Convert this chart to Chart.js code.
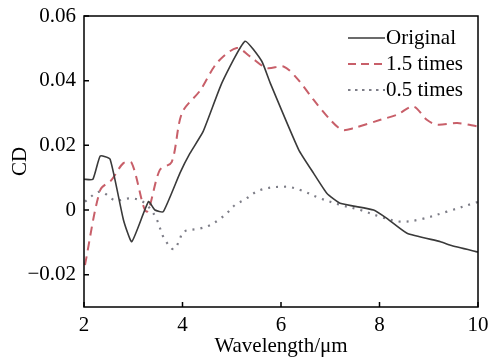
<!DOCTYPE html>
<html>
<head>
<meta charset="utf-8">
<script src="https://cdn.jsdelivr.net/npm/chart.js@4.4.1/dist/chart.umd.min.js"></script>
<style>
  html, body { margin: 0; padding: 0; background: #fff; }
  #wrap { width: 489px; height: 359px; }
</style>
</head>
<body>
<div id="wrap"><canvas id="myChart"></canvas></div>
<script>
// tick labels
var xTicks = [2, 4, 6, 8, 10];
var yTicks = [-0.02, 0, 0.02, 0.04, 0.06];

// series: wavelength (um) and CD values
var origX = [2.0, 2.18, 2.33, 2.53, 2.8, 2.97, 3.31, 3.44, 3.61, 3.95, 4.15, 4.42, 4.8, 5.27, 5.61, 5.78, 6.36, 6.66, 6.93, 7.2, 7.88, 8.15, 8.56, 9.24, 9.44, 10.0];
var origY = [0.0095, 0.0095, 0.0167, 0.0157, -0.003, -0.0098, 0.0026, 0.0, -0.0005, 0.0115, 0.0175, 0.0243, 0.0393, 0.0522, 0.046, 0.0393, 0.0186, 0.0114, 0.0052, 0.0021, 0.0, -0.0026, -0.0072, -0.0098, -0.0109, -0.013];

var times15X = [2.02, 2.33, 2.56, 2.8, 2.97, 3.27, 3.54, 3.78, 3.99, 4.36, 4.7, 5.1, 5.37, 5.71, 6.05, 6.32, 6.66, 7.0, 7.24, 7.47, 8.02, 8.36, 8.69, 8.96, 9.17, 9.58, 10.0];
var times15Y = [-0.017, 0.0062, 0.0093, 0.0145, 0.0145, -0.0005, 0.0124, 0.0148, 0.03, 0.037, 0.0455, 0.0501, 0.0475, 0.0439, 0.0444, 0.0408, 0.0341, 0.0279, 0.0248, 0.0253, 0.0279, 0.0295, 0.032, 0.0279, 0.0264, 0.0269, 0.0258];

var times05X = [2.02, 2.33, 2.63, 2.93, 3.14, 3.31, 3.48, 3.61, 3.78, 3.85, 3.95, 4.02, 4.36, 4.56, 4.73, 4.9, 5.07, 5.24, 5.58, 6.09, 6.39, 6.8, 7.2, 7.61, 8.02, 8.42, 8.83, 9.37, 10.0];
var times05Y = [0.0026, 0.0057, 0.003, 0.0036, 0.003, 0.001, -0.003, -0.0083, -0.0119, -0.0119, -0.0088, -0.0067, -0.0057, -0.0047, -0.0031, -0.001, 0.0016, 0.003, 0.0062, 0.0072, 0.0062, 0.0036, 0.0016, 0.0, -0.0021, -0.0036, -0.0029, -0.0005, 0.0025];

var seriesNames = ['Original', '1.5 times', '0.5 times'];

function pts(xs, ys) {
  var out = [];
  for (var i = 0; i < xs.length; i++) {
    out.push({x: xs[i], y: ys[i]});
  }
  return out;
}

var FONT = "'Liberation Serif', 'Times New Roman', serif";
var FSIZE = 21;

// frame, inward ticks and legend inside the plot
var framePlugin = {
  id: 'frame',
  afterDraw: function(chart) {
    var ctx = chart.ctx;
    var a = chart.chartArea;
    var xs = chart.scales.x, ys = chart.scales.y;
    ctx.save();
    ctx.strokeStyle = '#000';
    ctx.lineWidth = 1.5;
    ctx.strokeRect(a.left, a.top, a.right - a.left, a.bottom - a.top);
    ctx.beginPath();
    xTicks.forEach(function(v) {
      var px = xs.getPixelForValue(v);
      ctx.moveTo(px, a.bottom);
      ctx.lineTo(px, a.bottom - 5);
    });
    yTicks.forEach(function(v) {
      var py = ys.getPixelForValue(v);
      ctx.moveTo(a.left, py);
      ctx.lineTo(a.left + 5, py);
    });
    ctx.stroke();

    // legend
    ctx.font = FSIZE + 'px ' + FONT;
    ctx.textBaseline = 'middle';
    ctx.textAlign = 'left';
    chart.data.datasets.forEach(function(ds, i) {
      var y = a.top + 22 + i * 26;
      var x0 = a.left + 264;
      ctx.strokeStyle = ds.borderColor;
      ctx.lineWidth = ds.borderWidth;
      ctx.setLineDash(ds.legendDash || []);
      ctx.beginPath();
      ctx.moveTo(x0, y);
      ctx.lineTo(x0 + 37, y);
      ctx.stroke();
      ctx.setLineDash([]);
      ctx.fillStyle = '#000';
      ctx.fillText(ds.label, x0 + 38, y);
    });
    ctx.restore();
  }
};

var ctx = document.getElementById('myChart').getContext('2d');
var myChart = new Chart(ctx, {
  type: 'line',
  data: {
    datasets: [{
      label: seriesNames[0],
      data: pts(origX, origY),
      borderColor: '#3a3a3a',
      borderWidth: 1.6,
      pointRadius: 0,
      tension: 0.15
    },
    {
      label: seriesNames[1],
      data: pts(times15X, times15Y),
      borderColor: 'rgba(200, 95, 105, 1)',
      borderWidth: 2,
      borderDash: [9, 6],
      legendDash: [8, 5],
      pointRadius: 0,
      tension: 0.3
    },
    {
      label: seriesNames[2],
      data: pts(times05X, times05Y),
      borderColor: 'rgba(125, 125, 135, 1)',
      borderWidth: 2.2,
      borderDash: [2, 6],
      legendDash: [2.5, 4.5],
      pointRadius: 0,
      tension: 0.35
    }]
  },
  options: {
    responsive: true,
    maintainAspectRatio: false,
    animation: false,
    layout: { padding: { left: 0, right: 11, top: 16, bottom: 0 } },
    plugins: {
      legend: { display: false },
      tooltip: { enabled: false }
    },
    scales: {
      x: {
        type: 'linear',
        min: 2,
        max: 10,
        afterBuildTicks: function(scale) {
          scale.ticks = xTicks.map(function(v) { return {value: v}; });
        },
        afterFit: function(scale) {
          scale.height = 52;
          scale.paddingLeft = 0;
          scale.paddingRight = 0;
        },
        grid: { display: false, drawTicks: false },
        border: { display: false },
        ticks: {
          padding: 6,
          color: '#000',
          maxRotation: 0,
          font: { family: FONT, size: FSIZE }
        },
        title: {
          display: true,
          text: 'Wavelength/μm',
          color: '#000',
          padding: { top: 0, bottom: 0 },
          font: { family: FONT, size: FSIZE }
        }
      },
      y: {
        min: -0.03,
        max: 0.06,
        afterBuildTicks: function(scale) {
          scale.ticks = yTicks.map(function(v) { return {value: v}; });
        },
        afterFit: function(scale) {
          scale.width = 84;
          scale.paddingTop = 0;
          scale.paddingBottom = 0;
        },
        grid: { display: false, drawTicks: false },
        border: { display: false },
        ticks: {
          padding: 8,
          color: '#000',
          font: { family: FONT, size: FSIZE },
          callback: function(v) {
            if (Math.abs(v) < 1e-9) return '0';
            var s = Math.abs(v).toFixed(2);
            return v < 0 ? '\u22120' + s.slice(1) : s;
          }
        },
        title: {
          display: true,
          text: 'CD',
          color: '#000',
          padding: { top: 8, bottom: 0 },
          font: { family: FONT, size: FSIZE }
        }
      }
    }
  },
  plugins: [framePlugin]
});
</script>
</body>
</html>
